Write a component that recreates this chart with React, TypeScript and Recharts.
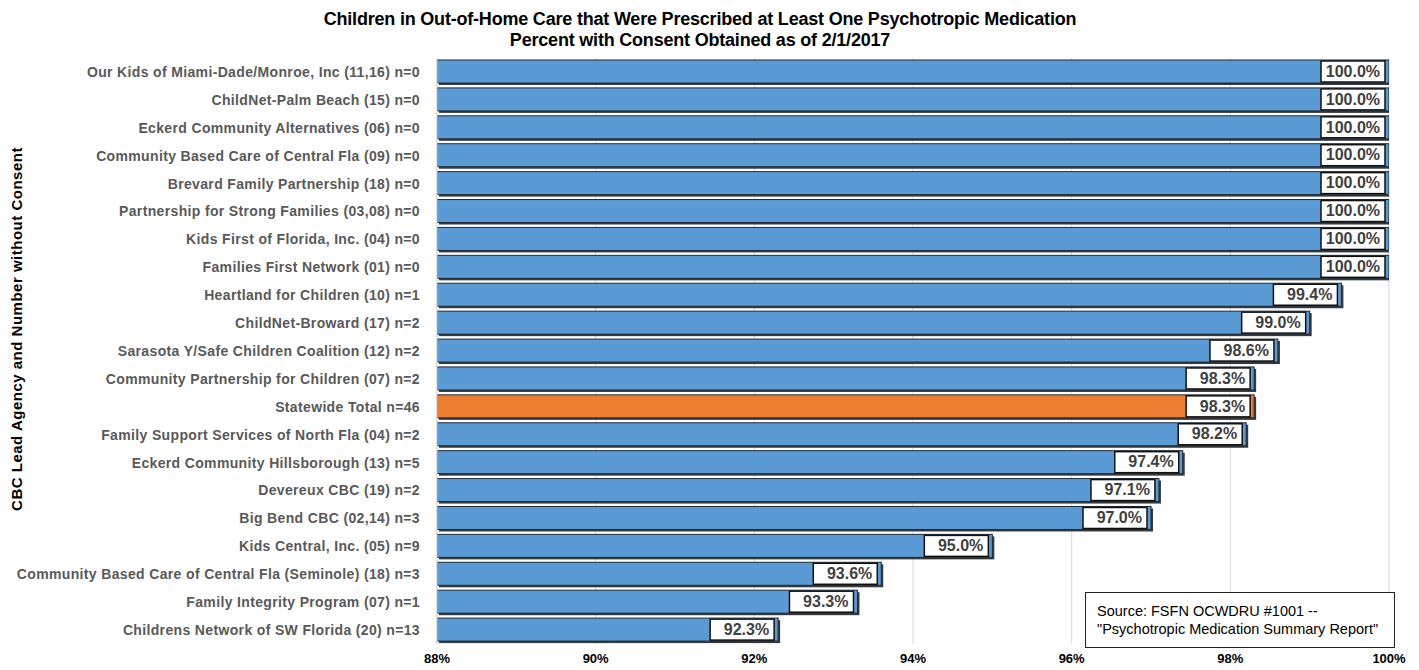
import React from "react"
import {
  BarChart,
  Bar,
  XAxis,
  YAxis,
  CartesianGrid,
  Cell,
  Label,
} from "recharts"

const agencies = [
  "Our Kids of Miami-Dade/Monroe, Inc (11,16) n=0",
  "ChildNet-Palm Beach (15) n=0",
  "Eckerd Community Alternatives (06) n=0",
  "Community Based Care of Central Fla (09) n=0",
  "Brevard Family Partnership (18) n=0",
  "Partnership for Strong Families (03,08) n=0",
  "Kids First of Florida, Inc. (04) n=0",
  "Families First Network (01) n=0",
  "Heartland for Children (10) n=1",
  "ChildNet-Broward (17) n=2",
  "Sarasota Y/Safe Children Coalition (12) n=2",
  "Community Partnership for Children (07) n=2",
  "Statewide Total n=46",
  "Family Support Services of North Fla (04) n=2",
  "Eckerd Community Hillsborough (13)  n=5",
  "Devereux CBC (19) n=2",
  "Big Bend CBC (02,14) n=3",
  "Kids Central, Inc. (05) n=9",
  "Community Based Care of Central Fla (Seminole) (18) n=3",
  "Family Integrity Program (07) n=1",
  "Childrens Network of SW Florida (20) n=13",
]

const pctWithConsent = [
  100, 100, 100, 100, 100, 100, 100, 100, 99.4, 99.0, 98.6, 98.3, 98.3, 98.2,
  97.4, 97.1, 97.0, 95.0, 93.6, 93.3, 92.3,
]

const xTicks = [88, 90, 92, 94, 96, 98, 100]

const STATEWIDE = "Statewide Total n=46"
const BLUE = "#5B9BD5"
const ORANGE = "#ED7D31"
const FONT = "Liberation Sans, Arial, sans-serif"

const data = agencies.map((name, i) => ({ name, value: pctWithConsent[i] }))

function BarWithLabel(props: any) {
  const { x, y, width, height, fill, payload } = props
  const boxW = 64
  const boxX = x + width - boxW - 4
  return (
    <g>
      <rect x={x + 2} y={y + 2} width={width} height={height} fill="#3a3a3a" />
      <rect x={x} y={y} width={width} height={height} fill={fill} stroke="#1f2a36" strokeWidth={1} />
      <rect x={boxX} y={y + 1} width={boxW} height={height - 2} fill="#fff" stroke="#111" strokeWidth={1.5} />
      <text
        x={boxX + boxW - 5}
        y={y + height / 2 + 1}
        textAnchor="end"
        dominantBaseline="middle"
        fontFamily={FONT}
        fontWeight="bold"
        fontSize={16}
        fill="#404040"
      >
        {payload.value.toFixed(1) + "%"}
      </text>
    </g>
  )
}

export default function App() {
  return (
    <div style={{ position: "absolute", left: 0, top: 0, width: 1419, height: 670, background: "#fff", fontFamily: FONT }}>
      <div style={{ position: "absolute", left: 0, top: 9, width: 1400, textAlign: "center", fontWeight: "bold", fontSize: 18, letterSpacing: -0.2, lineHeight: "21px", color: "#000" }}>
        Children in Out-of-Home Care that Were Prescribed at Least One Psychotropic Medication
        <br />
        Percent with Consent Obtained as of 2/1/2017
      </div>
      <BarChart
        width={1419}
        height={670}
        data={data}
        layout="vertical"
        margin={{ top: 58, right: 30, bottom: 6, left: 0 }}
        barSize={23}
      >
        <CartesianGrid horizontal={false} stroke="#d9d9d9" />
        <XAxis
          type="number"
          domain={[88, 100]}
          ticks={xTicks}
          allowDataOverflow
          tickFormatter={(v: number) => v + "%"}
          tick={{ fill: "#000", fontSize: 13, fontWeight: "bold" }}
          axisLine={false}
          tickLine={false}
          tickMargin={4}
          height={20}
        />
        <YAxis
          type="category"
          dataKey="name"
          width={437}
          interval={0}
          tick={{ fill: "#595959", fontSize: 14, fontWeight: "bold", letterSpacing: 0.35 }}
          axisLine={{ stroke: "#d9d9d9" }}
          tickLine={false}
          tickMargin={11}
        >
          <Label
            content={({ viewBox }: any) => {
              const cy = 329
              return (
                <text
                  x={22}
                  y={cy}
                  transform={`rotate(-90, 22, ${cy})`}
                  textAnchor="middle"
                  fontWeight="bold"
                  fontSize={15}
                  letterSpacing={0.5}
                  fill="#000"
                  fontFamily={FONT}
                >
                  CBC Lead Agency and Number without Consent
                </text>
              )
            }}
          />
        </YAxis>
        <Bar dataKey="value" isAnimationActive={false} shape={BarWithLabel}>
          {data.map((d, i) => (
            <Cell key={i} fill={d.name === STATEWIDE ? ORANGE : BLUE} />
          ))}
        </Bar>
      </BarChart>
      <div style={{ position: "absolute", left: 1085, top: 592, width: 310, height: 56, boxSizing: "border-box", border: "1px solid #222", background: "#fff", padding: "9px 0 0 11px", fontSize: 14.5, lineHeight: "18px", color: "#000" }}>
        Source: FSFN OCWDRU #1001 --
        <br />
        "Psychotropic Medication Summary Report"
      </div>
    </div>
  )
}
